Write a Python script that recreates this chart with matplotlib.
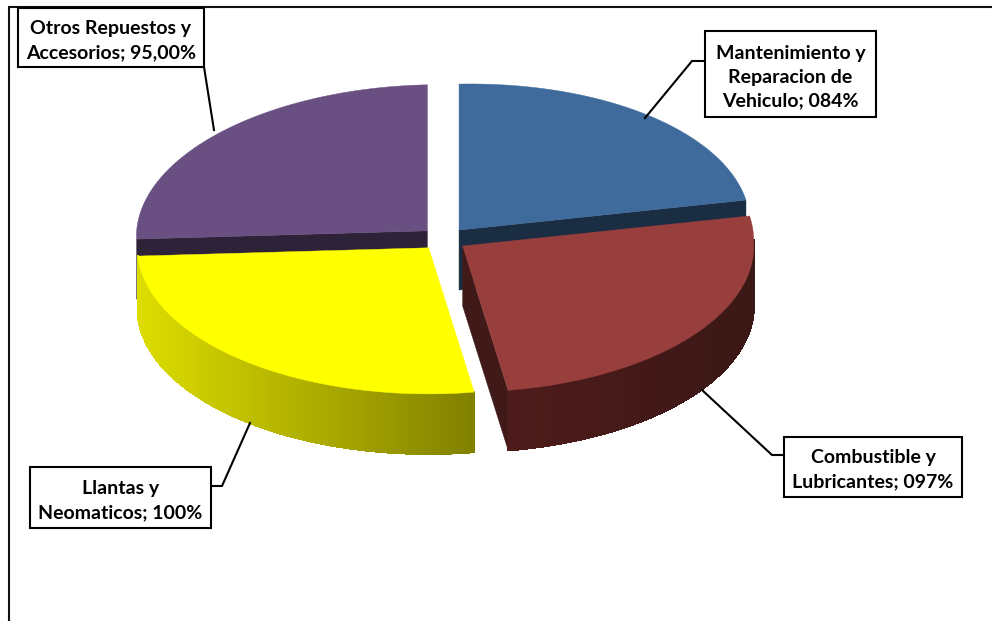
import numpy as np
import matplotlib
matplotlib.use("Agg")
import matplotlib.pyplot as plt
from matplotlib.collections import PolyCollection
from matplotlib.patches import Polygon, Rectangle
from matplotlib.colors import to_rgb

# --- data -------------------------------------------------------------
categories = ["Mantenimiento y\nReparacion de\nVehiculo", "Combustible y\nLubricantes",
              "Llantas y\nNeomaticos", "Otros Repuestos y\nAccesorios"]
values = [84, 97, 100, 95]
value_labels = ["084%", "097%", "100%", "95,00%"]

# --- styles -----------------------------------------------------------
top_colors = ["#3e6a9c", "#983f3d", "#ffff00", "#6a5082"]
cut_colors = ["#1a2d42", "#3f1a18", "#808000", "#2e2238"]
rim_left = ["#1a2d42", "#4e1b1b", "#dddd00", "#2e2238"]
rim_right = ["#1a2d42", "#3a1816", "#808000", "#2e2238"]

W, H = 992, 621
CX, CY, RX, RY = 444.0, 239.0, 291.0, 146.0
DEPTH = 60.0 / RY
EXPLODE = 0.08
SHIFT, TILT = 0.04, 0.04

plt.rcParams["font.family"] = ["Lato", "DejaVu Sans"]
fig = plt.figure(figsize=(W / 100, H / 100), dpi=100, facecolor="white")
ax = fig.add_axes([0, 0, 1, 1])
wedges, _ = ax.pie(values, startangle=90, counterclock=False, explode=[EXPLODE] * 4, radius=1)
ax.set_aspect("auto")
ax.set_xlim(-CX / RX, (W - CX) / RX)
ax.set_ylim((CY - H) / RY, CY / RY)
ax.axis("off")


def warp(w, th):
    u, v = np.cos(np.radians(th)), np.sin(np.radians(th))
    return (w.center[0] + u - SHIFT * np.minimum(v, 0), w.center[1] + v + TILT * u)


def arc(w, a, b, n=120):
    th = np.linspace(a, b, n)
    x, y = warp(w, th)
    return np.column_stack([x, y])


def add_top(w, color, z):
    pts = np.vstack([[w.center], arc(w, w.theta1, w.theta2)])
    ax.add_patch(Polygon(pts, closed=True, fc=color, ec=color, lw=0.3, zorder=z))
    w.set_visible(False)


def add_cut(w, th, color, z):
    x, y = warp(w, np.array([th]))
    a, e = np.array(w.center), np.array([x[0], y[0]])
    d = np.array([0, DEPTH])
    ax.add_patch(Polygon([a, e, e - d, a - d], closed=True, fc=color, ec=color, lw=0.3, zorder=z))


def add_rim(w, left, right, z, n=90):
    # front-facing part of the outer wall, lit from the left
    lo, hi = max(w.theta1, 180.0), min(w.theta2, 360.0)
    th = np.linspace(lo, hi, n)
    x, y = warp(w, th)
    polys, cols = [], []
    c0, c1 = np.array(to_rgb(left)), np.array(to_rgb(right))
    span = x.max() - x.min()
    for i in range(n - 1):
        polys.append([(x[i], y[i]), (x[i + 1], y[i + 1]),
                      (x[i + 1], y[i + 1] - DEPTH), (x[i], y[i] - DEPTH)])
        cols.append(c0 + (c1 - c0) * ((x[i] - x.min()) / span))
    ax.add_collection(PolyCollection(polys, facecolors=cols, edgecolors=cols, linewidths=0.8,
                                     antialiaseds=False, zorder=z))


def norm_wedge(w):
    # keep each wedge's angles increasing within one turn
    w.theta1, w.theta2 = w.theta1 % 360, w.theta2 % 360
    if w.theta2 <= w.theta1:
        w.theta2 += 360


for w in wedges:
    norm_wedge(w)

blue, red, yellow, purple = wedges

# back slices
add_cut(purple, purple.theta2, cut_colors[3], 1)
add_cut(blue, blue.theta1, cut_colors[0], 1)
add_top(purple, top_colors[3], 2)
add_top(blue, top_colors[0], 2)

# front slices
add_rim(yellow, rim_left[2], rim_right[2], 3)
add_cut(red, red.theta1, cut_colors[1], 3)
add_rim(red, rim_left[1], rim_right[1], 3)
add_top(yellow, top_colors[2], 4)
add_top(red, top_colors[1], 4)

# --- overlay in pixel units: frame, boxes, leaders --------------------
ov = fig.add_axes([0, 0, 1, 1], facecolor="none")
ov.set_xlim(0, W)
ov.set_ylim(H, 0)
ov.axis("off")

LW = 1.5
ov.plot([9, 9, W], [H, 7, 7], color="#111111", lw=LW, solid_joinstyle="miter", zorder=5)

boxes = [(705, 31, 876, 117), (784, 437, 962, 497), (30, 467, 211, 528), (18, 8, 204, 67)]
leaders = [[(705, 61), (692, 61), (645, 118)],
           [(784, 455), (772, 455), (702, 390)],
           [(211, 486), (222, 486), (250, 423)],
           [(204, 67), (214, 130)]]
for (x0, y0, x1, y1), line, cat, lab in zip(boxes, leaders, categories, value_labels):
    xs, ys = zip(*line)
    ov.plot(xs, ys, color="black", lw=LW, zorder=6, solid_joinstyle="miter")
    ov.add_patch(Rectangle((x0, y0), x1 - x0, y1 - y0, fc="white", ec="black", lw=LW, zorder=7))
    ov.text((x0 + x1) / 2, (y0 + y1) / 2 + 3, f"{cat}; {lab}", ha="center", va="center",
            fontsize=14, fontweight="bold", linespacing=1.5, color="black", zorder=8)

fig.savefig("out.png", dpi=100)
